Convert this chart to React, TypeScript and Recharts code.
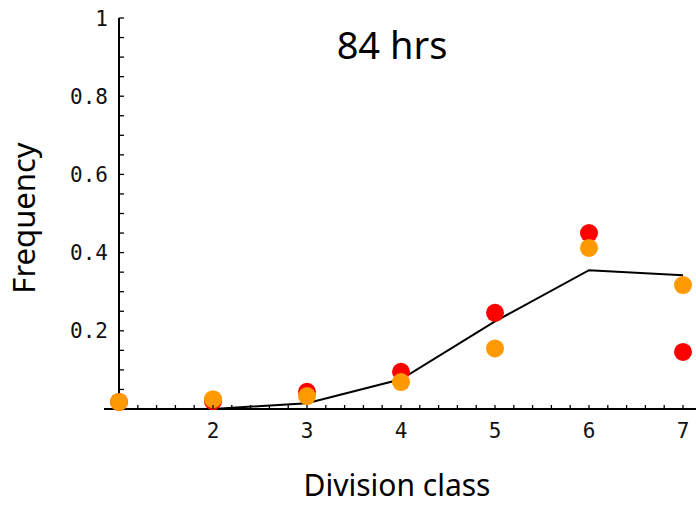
import React from 'react';
import { ComposedChart, Scatter, Line, XAxis, YAxis, ReferenceLine, Label } from 'recharts';

// division classes and observed / model frequencies at 84 hrs
const divisionClass = [1, 2, 3, 4, 5, 6, 7];
const redFreq = [0.018, 0.02, 0.044, 0.095, 0.246, 0.45, 0.146];
const orangeFreq = [0.018, 0.025, 0.033, 0.069, 0.155, 0.412, 0.317];
const modelFreq = [null, 0, 0.015, 0.076, 0.224, 0.355, 0.342];

const xLabels = [2, 3, 4, 5, 6, 7];
const yLabels = [0.2, 0.4, 0.6, 0.8, 1];

// minor ticks: every 0.2 along x, every 0.05 along y
const xTicks = Array.from({ length: 30 }, (_, i) => Math.round((1.2 + i * 0.2) * 10) / 10);
const yTicks = Array.from({ length: 20 }, (_, i) => Math.round((0.05 + i * 0.05) * 100) / 100);

const redPts = divisionClass.map((x, i) => ({ x, y: redFreq[i] }));
const orangePts = divisionClass.map((x, i) => ({ x, y: orangeFreq[i] }));
const modelPts = divisionClass.map((x, i) => ({ x, y: modelFreq[i] }));

const W = 696;
const H = 505;
const AXIS_PAD = 15; // distance from plot left edge to x = 1, where the y axis sits
const tickFont = { fontFamily: '"DejaVu Sans Mono", monospace', fontSize: 21, fill: '#111' };
const labelFont = { fontFamily: '"Noto Sans", "Open Sans", sans-serif', fill: '#000' };

const XTick = ({ x, y, payload }: any) => {
    const v = payload.value;
    const showLabel = xLabels.some(l => Math.abs(l - v) < 1e-6);
    return (
        <g>
            <line x1={x} x2={x} y1={y} y2={y - 4} stroke="#000" strokeWidth={1.3} />
            {showLabel && <text x={x} y={y + 29} textAnchor="middle" {...tickFont}>{Math.round(v)}</text>}
        </g>
    );
};

const YTick = ({ x, y, payload }: any) => {
    const v = payload.value;
    const showLabel = yLabels.some(l => Math.abs(l - v) < 1e-6);
    const ax = x + AXIS_PAD;
    return (
        <g>
            <line x1={ax} x2={ax + 5} y1={y} y2={y} stroke="#000" strokeWidth={1.3} />
            {showLabel && <text x={x + 4} y={y} dy="0.36em" textAnchor="end" {...tickFont}>{String(v)}</text>}
        </g>
    );
};

const dot = (fill: string) => (p: any) => <circle cx={p.cx} cy={p.cy} r={9} fill={fill} />;

export default function App() {
    return (
        <div style={{ position: 'absolute', left: 0, top: 0, width: W, height: H, background: '#fff' }}>
            <ComposedChart width={W} height={H} margin={{ top: 18, right: 0, bottom: 0, left: 0 }}>
                <XAxis
                    type="number" dataKey="x" domain={[1, 7]} padding={{ left: AXIS_PAD, right: 13 }}
                    ticks={xTicks} interval={0} tick={<XTick />} tickLine={false} tickSize={0} tickMargin={0}
                    axisLine={{ stroke: '#000', strokeWidth: 2 }} height={96}
                >
                    <Label
                        content={({ viewBox }: any) => (
                            <text x={viewBox.x + viewBox.width / 2 - 3} y={viewBox.y + 87} textAnchor="middle" fontSize={30} {...labelFont}>
                                Division class
                            </text>
                        )}
                    />
                </XAxis>
                <YAxis
                    type="number" domain={[0, 1]} ticks={yTicks} interval={0} tick={<YTick />}
                    axisLine={false} tickLine={false} tickSize={0} tickMargin={0} width={104}
                >
                    <Label
                        content={() => (
                            <text x={35} y={218} transform="rotate(-90 35 218)" textAnchor="middle" fontSize={31} {...labelFont}>
                                Frequency
                            </text>
                        )}
                    />
                </YAxis>
                <ReferenceLine x={1} stroke="#000" strokeWidth={2} />
                <Scatter data={redPts} dataKey="y" shape={dot('#ff0000')} isAnimationActive={false} />
                <Scatter data={orangePts} dataKey="y" shape={dot('#ff9900')} isAnimationActive={false} />
                <Line
                    data={modelPts} dataKey="y" type="linear" stroke="#000" strokeWidth={2}
                    dot={false} activeDot={false} isAnimationActive={false}
                />
            </ComposedChart>
            <div style={{
                position: 'absolute', left: 292, width: 200, top: 18, textAlign: 'center',
                fontFamily: '"Noto Sans", "Open Sans", sans-serif', fontSize: 38, lineHeight: '52px', color: '#000',
            }}>
                84 hrs
            </div>
        </div>
    );
}
